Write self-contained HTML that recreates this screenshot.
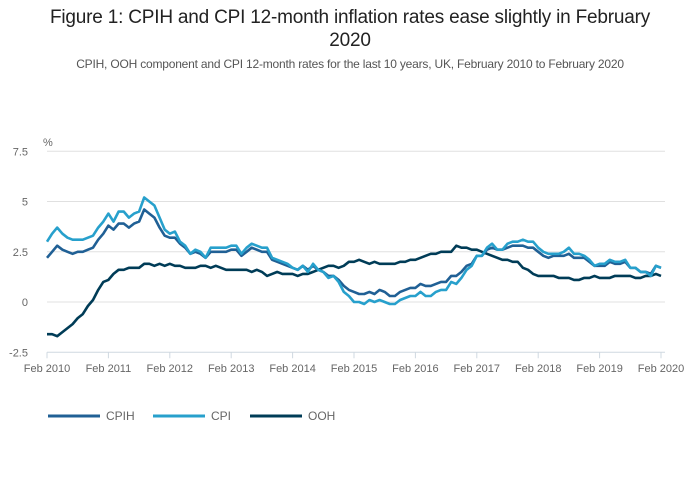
<!DOCTYPE html>
<html><head><meta charset="utf-8"><style>
body{margin:0;background:#fff;font-family:"Liberation Sans",sans-serif;}
#wrap{position:relative;width:700px;height:502px;overflow:hidden;}
#title{position:absolute;left:20px;top:6px;width:660px;text-align:center;font-size:19px;line-height:23px;color:#222;letter-spacing:-0.2px;}
#sub{position:absolute;left:0;top:57px;width:700px;text-align:center;font-size:12px;color:#555;letter-spacing:-0.2px;}
svg{position:absolute;left:0;top:0;}
</style></head><body>
<div id="wrap">
<div id="title">Figure 1: CPIH and CPI 12-month inflation rates ease slightly in February<br>2020</div>
<div id="sub">CPIH, OOH component and CPI 12-month rates for the last 10 years, UK, February 2010 to February 2020</div>
<svg id="svg" width="700" height="502"></svg>
</div>
<script>
const yTicks=[7.5,5,2.5,0,-2.5];
const yTickLabels=["7.5","5","2.5","0","-2.5"];
const xTickLabels=["Feb 2010","Feb 2011","Feb 2012","Feb 2013","Feb 2014","Feb 2015","Feb 2016","Feb 2017","Feb 2018","Feb 2019","Feb 2020"];
const cpih=[2.2,2.5,2.8,2.6,2.5,2.4,2.5,2.5,2.6,2.7,3.1,
3.4,3.8,3.6,3.9,3.9,3.7,3.9,4.0,4.6,4.4,4.2,3.7,
3.3,3.2,3.2,2.9,2.7,2.4,2.5,2.4,2.2,2.5,2.5,2.5,
2.5,2.6,2.6,2.3,2.5,2.7,2.6,2.5,2.5,2.1,2.0,1.9,
1.8,1.7,1.6,1.8,1.6,1.8,1.6,1.5,1.3,1.3,1.1,0.8,
0.6,0.5,0.4,0.4,0.5,0.4,0.6,0.5,0.3,0.3,0.5,0.6,
0.7,0.7,0.9,0.8,0.8,0.9,1.0,1.0,1.3,1.3,1.5,1.8,
1.9,2.3,2.3,2.6,2.7,2.6,2.6,2.7,2.8,2.8,2.8,2.7,
2.7,2.5,2.3,2.2,2.3,2.3,2.3,2.4,2.2,2.2,2.2,2.0,
1.8,1.8,1.8,2.0,1.9,1.9,2.0,1.7,1.7,1.5,1.5,1.4,
1.8,1.7];
const cpi=[3.0,3.4,3.7,3.4,3.2,3.1,3.1,3.1,3.2,3.3,3.7,
4.0,4.4,4.0,4.5,4.5,4.2,4.4,4.5,5.2,5.0,4.8,4.2,
3.6,3.4,3.5,3.0,2.8,2.4,2.6,2.5,2.2,2.7,2.7,2.7,
2.7,2.8,2.8,2.4,2.7,2.9,2.8,2.7,2.7,2.2,2.1,2.0,
1.9,1.7,1.6,1.8,1.5,1.9,1.6,1.5,1.2,1.3,1.0,0.5,
0.3,0.0,0.0,-0.1,0.1,0.0,0.1,0.0,-0.1,-0.1,0.1,0.2,
0.3,0.3,0.5,0.3,0.3,0.5,0.6,0.6,1.0,0.9,1.2,1.6,
1.8,2.3,2.3,2.7,2.9,2.6,2.6,2.9,3.0,3.0,3.1,3.0,
3.0,2.7,2.5,2.4,2.4,2.4,2.5,2.7,2.4,2.4,2.3,2.1,
1.8,1.9,1.9,2.1,2.0,2.0,2.1,1.7,1.7,1.5,1.5,1.3,
1.8,1.7];
const ooh=[-1.6,-1.6,-1.7,-1.5,-1.3,-1.1,-0.8,-0.6,-0.2,0.1,0.6,
1.0,1.1,1.4,1.6,1.6,1.7,1.7,1.7,1.9,1.9,1.8,1.9,
1.8,1.9,1.8,1.8,1.7,1.7,1.7,1.8,1.8,1.7,1.8,1.7,
1.6,1.6,1.6,1.6,1.6,1.5,1.6,1.5,1.3,1.4,1.5,1.4,
1.4,1.4,1.3,1.4,1.4,1.5,1.6,1.7,1.8,1.8,1.7,1.8,
2.0,2.0,2.1,2.0,1.9,2.0,1.9,1.9,1.9,1.9,2.0,2.0,
2.1,2.1,2.2,2.3,2.4,2.4,2.5,2.5,2.5,2.8,2.7,2.7,
2.6,2.6,2.5,2.4,2.3,2.2,2.1,2.1,2.0,2.0,1.7,1.6,
1.4,1.3,1.3,1.3,1.3,1.2,1.2,1.2,1.1,1.1,1.2,1.2,
1.3,1.2,1.2,1.2,1.3,1.3,1.3,1.3,1.2,1.2,1.3,1.3,
1.4,1.3];
const NS="http://www.w3.org/2000/svg";
const svg=document.getElementById('svg');
const X0=47,X1=661,Y0=302,PXU=20.1;
function xs(i){return X0+(X1-X0)*i/120;}
function ys(v){return Y0-v*PXU;}
function mk(t,a){const e=document.createElementNS(NS,t);for(const k in a)e.setAttribute(k,a[k]);svg.appendChild(e);return e;}
yTicks.forEach((v,i)=>{
  if(v>-2.5){const g=mk('line',{x1:X0,x2:665,y1:ys(v),y2:ys(v),stroke:'#e0e0e0','stroke-width':1});
  
  }
  const t=mk('text',{x:28,y:ys(v)+4,'font-size':11,fill:'#666','text-anchor':'end'});
  t.textContent=yTickLabels[i];
  
  
});
const u=mk('text',{x:43,y:146,'font-size':11,fill:'#666'});u.textContent='%';


const ax=mk('line',{x1:X0,x2:665,y1:ys(-2.5),y2:ys(-2.5),stroke:'#cfd8e0','stroke-width':1});


xTickLabels.forEach((l,i)=>{
  const x=xs(i*12);
  const tk=mk('line',{x1:x,x2:x,y1:ys(-2.5),y2:ys(-2.5)+6,stroke:'#cfd8e0','stroke-width':1});
  
  
  const t=mk('text',{x:x,y:372,'font-size':11,fill:'#666','text-anchor':'middle'});
  t.textContent=l;
  
  
});
function line(d,c,n){
  const p=mk('polyline',{points:d.map((v,i)=>xs(i).toFixed(1)+','+ys(v).toFixed(1)).join(' '),fill:'none',stroke:c,'stroke-width':2.6,'stroke-linejoin':'round'});
  
  
}
line(ooh,'#003c57','ooh-line');
line(cpih,'#206095','cpih-line');
line(cpi,'#27a0cc','cpi-line');
const leg=[['CPIH','#206095',48],['CPI','#27a0cc',153],['OOH','#003c57',250]];
leg.forEach(l=>{
  const s=mk('line',{x1:l[2],x2:l[2]+52,y1:416,y2:416,stroke:l[1],'stroke-width':3});
  
  
  const t=mk('text',{x:l[2]+58,y:420,'font-size':12,fill:'#666'});
  t.textContent=l[0];
  
  
});
</script>
</body></html>
